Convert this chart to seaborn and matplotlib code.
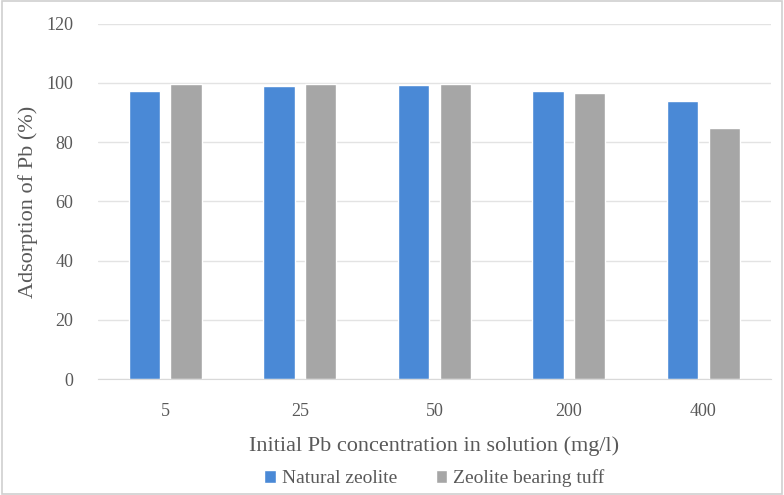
import pandas as pd
import matplotlib.pyplot as plt
import seaborn as sns
from matplotlib.patches import Rectangle

concentrations = ["5", "25", "50", "200", "400"]
natural_zeolite = [97.3, 99.0, 99.2, 97.2, 93.8]
zeolite_tuff = [99.7, 99.6, 99.7, 96.5, 84.8]
series_names = ["Natural zeolite", "Zeolite bearing tuff"]

df = pd.DataFrame({
    "conc": concentrations * 2,
    "value": natural_zeolite + zeolite_tuff,
    "series": [series_names[0]] * 5 + [series_names[1]] * 5,
})

sns.set_style("white")
plt.rcParams["font.family"] = ["Liberation Serif", "DejaVu Serif"]

fig = plt.figure(figsize=(7.84, 4.95), dpi=100)
ax = fig.add_axes([0.125, 0.234, 0.858, 0.718])

sns.barplot(data=df, x="conc", y="value", hue="series", order=concentrations,
            palette=["#4a89d6", "#a6a6a6"], width=0.62, gap=0.25,
            saturation=1, ax=ax)

ax.set_ylim(0, 120)
ax.set_yticks(range(0, 121, 20))
ax.yaxis.grid(True, color="#e3e3e3", linewidth=1)
ax.set_axisbelow(True)
for s in ["top", "right", "left"]:
    ax.spines[s].set_visible(False)
ax.spines["bottom"].set_color("#d9d9d9")
ax.tick_params(axis="both", length=0, labelsize=13, colors="#595959")
ax.tick_params(axis="y", pad=18)
ax.tick_params(axis="x", pad=17)
ax.set_xlabel("Initial Pb concentration in solution (mg/l)", fontsize=16,
              color="#595959", labelpad=12)
ax.set_ylabel("Adsorption of Pb (%)", fontsize=16, color="#595959", labelpad=6)

ax.legend(loc="upper center", bbox_to_anchor=(0.5, -0.205), ncol=2, frameon=False,
          fontsize=14, handlelength=0.6, handleheight=0.6, handletextpad=0.3,
          columnspacing=2.0, labelcolor="#595959")

fig.patches.append(Rectangle((0.003, 0.003), 0.994, 0.994, transform=fig.transFigure,
                             fill=False, edgecolor="#d0d0d0", linewidth=1.2))

fig.savefig("out.png", dpi=100)
